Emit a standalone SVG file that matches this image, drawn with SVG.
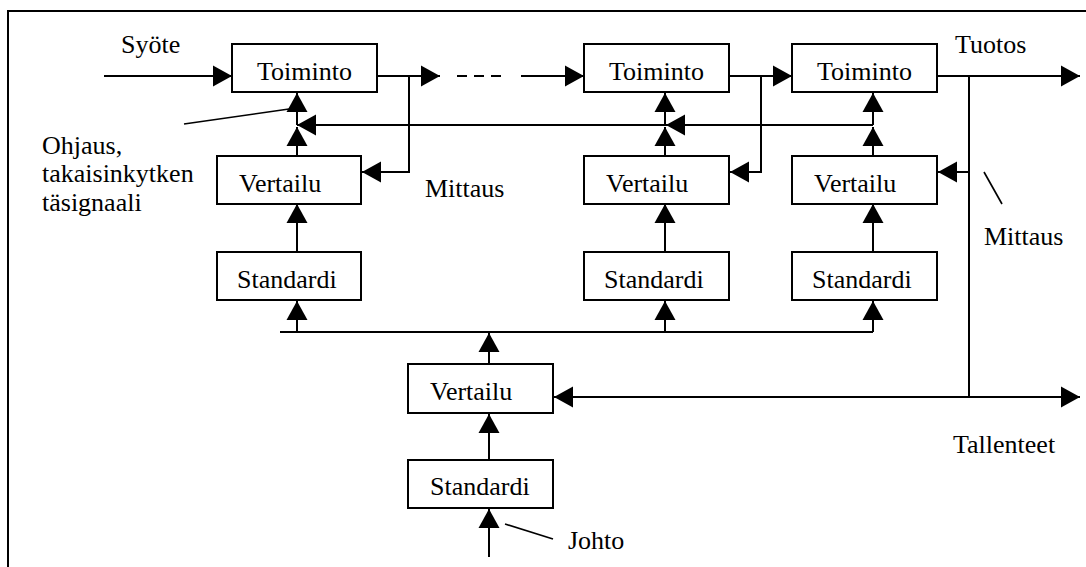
<svg xmlns="http://www.w3.org/2000/svg" width="1086" height="567" viewBox="0 0 1086 567" font-family="'Liberation Serif', 'Times New Roman', Times, serif">
<defs>
<marker id="ah" markerUnits="userSpaceOnUse" markerWidth="20" markerHeight="22" refX="19" refY="10.5" orient="auto" viewBox="0 0 20 21">
<path d="M0,0 L19,10.5 L0,21 z" fill="#000"/>
</marker>
<style>
.box{fill:#fff;stroke:#000;stroke-width:2}
.ln{fill:none;stroke:#000;stroke-width:2}
.arr{fill:none;stroke:#000;stroke-width:2;marker-end:url(#ah)}
.lead{fill:none;stroke:#000;stroke-width:1.6}
.t{font-family:'Liberation Serif','Times New Roman',Times,serif;font-size:26px;fill:#000}
.c{text-anchor:middle}
</style>
</defs>
<rect width="1086" height="567" fill="#fff"/>
<path class="ln" d="M8,567 L8,11 L1086,11"/>

<g id="connectors">
<line class="arr" x1="104" y1="76" x2="232" y2="76"/>
<line class="arr" x1="377" y1="76" x2="440" y2="76"/>
<line class="ln" x1="457" y1="76" x2="507" y2="76" stroke-dasharray="10,7"/>
<line class="arr" x1="521" y1="76" x2="584" y2="76"/>
<line class="arr" x1="729" y1="76" x2="792" y2="76"/>
<line class="arr" x1="937" y1="76" x2="1080" y2="76"/>
<polyline class="arr" points="409,76 409,172 362,172"/>
<polyline class="arr" points="761,76 761,172 730,172"/>
<line class="ln" x1="969" y1="76" x2="969" y2="397"/>
<line class="arr" x1="969" y1="172" x2="938" y2="172"/>
<line class="arr" x1="873" y1="125" x2="666" y2="125"/>
<line class="arr" x1="666" y1="125" x2="297" y2="125"/>
<line class="arr" x1="297" y1="156" x2="297" y2="127"/>
<line class="arr" x1="297" y1="125" x2="297" y2="93"/>
<line class="arr" x1="665" y1="156" x2="665" y2="127"/>
<line class="arr" x1="665" y1="125" x2="665" y2="93"/>
<line class="arr" x1="873" y1="156" x2="873" y2="127"/>
<line class="arr" x1="873" y1="125" x2="873" y2="93"/>
<line class="arr" x1="297" y1="252" x2="297" y2="204"/>
<line class="arr" x1="665" y1="252" x2="665" y2="204"/>
<line class="arr" x1="873" y1="252" x2="873" y2="204"/>
<line class="ln" x1="280" y1="332" x2="873" y2="332"/>
<line class="arr" x1="297" y1="332" x2="297" y2="301"/>
<line class="arr" x1="665" y1="332" x2="665" y2="301"/>
<line class="arr" x1="873" y1="332" x2="873" y2="301"/>
<line class="arr" x1="489" y1="364" x2="489" y2="333"/>
<line class="arr" x1="969" y1="397" x2="554" y2="397"/>
<line class="arr" x1="969" y1="397" x2="1080" y2="397"/>
<line class="arr" x1="489" y1="460" x2="489" y2="414"/>
<line class="arr" x1="489" y1="557" x2="489" y2="509"/>
<line class="lead" x1="184" y1="124" x2="289" y2="109"/>
<line class="lead" x1="233" y1="172" x2="248" y2="203"/>
<line class="lead" x1="984" y1="172" x2="1002" y2="204"/>
<line class="lead" x1="505" y1="524" x2="553" y2="539"/>
</g>

<g id="toiminto1"><rect class="box" x="232" y="44" width="145" height="48"/><text class="t c" x="304.5" y="80">Toiminto</text></g>
<g id="toiminto2"><rect class="box" x="584" y="44" width="145" height="48"/><text class="t c" x="656.5" y="80">Toiminto</text></g>
<g id="toiminto3"><rect class="box" x="792" y="44" width="145" height="48"/><text class="t c" x="864.5" y="80">Toiminto</text></g>

<g id="vertailu1"><rect class="box" x="217" y="156" width="144" height="48"/><text class="t" x="239" y="192">Vertailu</text></g>
<g id="vertailu2"><rect class="box" x="584" y="156" width="145" height="48"/><text class="t" x="606" y="192">Vertailu</text></g>
<g id="vertailu3"><rect class="box" x="792" y="156" width="145" height="48"/><text class="t" x="814" y="192">Vertailu</text></g>

<g id="standardi1"><rect class="box" x="217" y="252" width="144" height="48"/><text class="t" x="237" y="288">Standardi</text></g>
<g id="standardi2"><rect class="box" x="584" y="252" width="145" height="48"/><text class="t" x="604" y="288">Standardi</text></g>
<g id="standardi3"><rect class="box" x="792" y="252" width="145" height="48"/><text class="t" x="812" y="288">Standardi</text></g>

<g id="vertailu4"><rect class="box" x="408" y="364" width="145" height="49"/><text class="t" x="430" y="400">Vertailu</text></g>
<g id="standardi4"><rect class="box" x="408" y="460" width="145" height="48"/><text class="t" x="430" y="495">Standardi</text></g>

<g id="labels">
<text class="t" x="121" y="53">Syöte</text>
<text class="t" x="955" y="53">Tuotos</text>
<text class="t" x="42" y="154">Ohjaus,</text>
<text class="t" x="42" y="182">takaisinkytken</text>
<text class="t" x="42" y="211">täsignaali</text>
<text class="t" x="425" y="197">Mittaus</text>
<text class="t" x="984" y="245">Mittaus</text>
<text class="t" x="953" y="453">Tallenteet</text>
<text class="t" x="568" y="549">Johto</text>
</g>
</svg>
